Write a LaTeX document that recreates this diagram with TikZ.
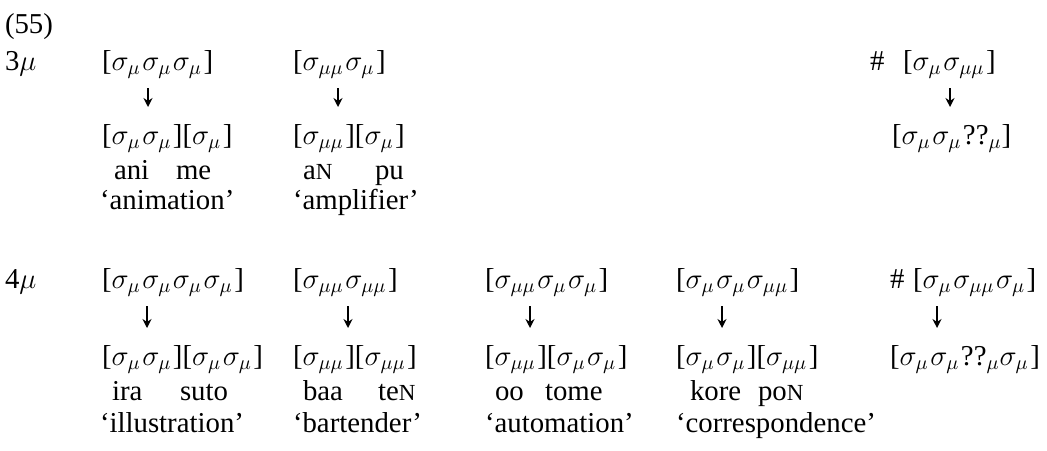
\documentclass[tikz,border=0pt]{standalone}
\usepackage{fontspec}
\setmainfont{Liberation Serif}
\usetikzlibrary{arrows.meta,calc}
\newcommand\sm{\sigma_{\mu}\kern0.8pt}
\newcommand\smm{\sigma_{\mu\mu}\kern0.8pt}
\newcommand\Nsc{{\fontsize{11.5pt}{11.5pt}\selectfont N}}
\begin{document}
\begin{tikzpicture}[x=0.5pt,y=-0.5pt,
  txt/.style={anchor=base west,inner sep=0pt,outer sep=0pt,font=\fontsize{14.4pt}{17pt}\selectfont},
  arr/.style={line width=0.8pt,-{Stealth[length=4.5pt,width=4.5pt]}}]
\useasboundingbox (0,0) rectangle (1047,450);
% labels
\node[txt] (ex) at (5,33) {(55)};
\node[txt] (l3) at (5,70) {3$\mu$};
\node[txt] (l4) at (5,288) {4$\mu$};
% row 1, column 1
\node[txt] (t11) at (102,70) {[$\sm\sm\sm$]};
\node[txt] (b11) at (102,144) {[$\sm\sm$][$\sm$]};
\node[txt] (w11a) at (114,179) {ani};
\node[txt] (w11b) at (176,179) {me};
\node[txt] (g11) at (100,209) {‘animation’};
% row 1, column 2
\node[txt] (t12) at (293,70) {[$\smm\sm$]};
\node[txt] (b12) at (293,144) {[$\smm$][$\sm$]};
\node[txt] (w12a) at (303,179) {a\Nsc};
\node[txt] (w12b) at (375,179) {pu};
\node[txt] (g12) at (293,209) {‘amplifier’};
% row 1, column 5
\node[txt] (h15) at (870,70) {\#};
\node[txt] (t15) at (903,70) {[$\sm\smm$]};
\node[txt] (b15) at (892,144) {[$\sm\sm$??$_{\mu}$]};
% row 2, column 1
\node[txt] (t21) at (102,288) {[$\sm\sm\sm\sm$]};
\node[txt] (b21) at (102,365) {[$\sm\sm$][$\sm\sm$]};
\node[txt] (w21a) at (112,400) {ira};
\node[txt] (w21b) at (180,400) {suto};
\node[txt] (g21) at (100,432) {‘illustration’};
% row 2, column 2
\node[txt] (t22) at (293,288) {[$\smm\smm$]};
\node[txt] (b22) at (293,365) {[$\smm$][$\smm$]};
\node[txt] (w22a) at (303,400) {baa};
\node[txt] (w22b) at (378,400) {te\Nsc};
\node[txt] (g22) at (293,432) {‘bartender’};
% row 2, column 3
\node[txt] (t23) at (485,288) {[$\smm\sm\sm$]};
\node[txt] (b23) at (485,365) {[$\smm$][$\sm\sm$]};
\node[txt] (w23a) at (495,400) {oo};
\node[txt] (w23b) at (545,400) {tome};
\node[txt] (g23) at (485,432) {‘automation’};
% row 2, column 4
\node[txt] (t24) at (676,288) {[$\sm\sm\smm$]};
\node[txt] (b24) at (676,365) {[$\sm\sm$][$\smm$]};
\node[txt] (w24a) at (690,400) {kore};
\node[txt] (w24b) at (758,400) {po\Nsc};
\node[txt] (g24) at (676,432) {‘correspondence’};
% row 2, column 5
\node[txt] (h25) at (890,288) {\#};
\node[txt] (t25) at (913,288) {[$\sm\smm\sm$]};
\node[txt] (b25) at (890,365) {[$\sm\sm$??$_{\mu}\sm$]};
% arrows
\draw[arr] ($(t11.base west)+(46,18)$) -- ($(b11.base west)+(46,-37)$);
\draw[arr] ($(t12.base west)+(45,18)$) -- ($(b12.base west)+(45,-37)$);
\draw[arr] ($(t15.base west)+(47,18)$) -- ($(b15.base west)+(58,-37)$);
\draw[arr] ($(t21.base west)+(45,18)$) -- ($(b21.base west)+(45,-37)$);
\draw[arr] ($(t22.base west)+(55,18)$) -- ($(b22.base west)+(55,-37)$);
\draw[arr] ($(t23.base west)+(45,18)$) -- ($(b23.base west)+(45,-37)$);
\draw[arr] ($(t24.base west)+(46,18)$) -- ($(b24.base west)+(46,-37)$);
\draw[arr] ($(t25.base west)+(24,18)$) -- ($(b25.base west)+(47,-37)$);
\end{tikzpicture}
\end{document}
